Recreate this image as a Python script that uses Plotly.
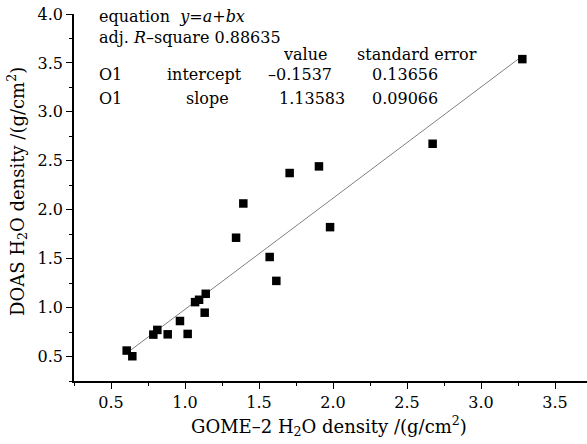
import plotly.graph_objects as go

gome = [0.606, 0.644, 0.786, 0.813, 0.883, 0.966, 1.018, 1.068, 1.095, 1.140,
        1.133, 1.345, 1.394, 1.572, 1.617, 1.707, 1.905, 1.980, 2.673, 3.279]
doas = [0.561, 0.503, 0.724, 0.772, 0.727, 0.863, 0.731, 1.056, 1.080, 1.141,
        0.948, 1.714, 2.064, 1.517, 1.273, 2.375, 2.443, 1.822, 2.674, 3.539]
intercept = -0.1537
slope = 1.13583

x_tick_vals = [0.5, 1.0, 1.5, 2.0, 2.5, 3.0, 3.5]
y_tick_vals = [0.5, 1.0, 1.5, 2.0, 2.5, 3.0, 3.5, 4.0]

FONT = "DejaVu Serif"
FS = 16
TFS = 18

fit_x = [min(gome), max(gome)]
fit_y = [intercept + slope * v for v in fit_x]

fig = go.Figure()
fig.add_trace(go.Scatter(x=fit_x, y=fit_y, mode="lines",
                         line=dict(color="#808080", width=1), showlegend=False))
fig.add_trace(go.Scatter(x=gome, y=doas, mode="markers",
                         marker=dict(symbol="square", size=8.5, color="black",
                                     line=dict(width=0)),
                         showlegend=False))

axis_common = dict(
    showline=True, linecolor="black", linewidth=1.5, mirror=False,
    showgrid=False, zeroline=False, ticks="outside", ticklen=6, tickwidth=1,
    tickcolor="black", tickfont=dict(family=FONT, size=FS, color="black"),
    minor=dict(ticks="outside", ticklen=3, tickwidth=1, tickcolor="black", dtick=0.25),
)

fig.update_xaxes(range=[0.25, 3.716], tickvals=x_tick_vals,
                 ticktext=[f"{v:.1f}" for v in x_tick_vals], **axis_common)
fig.update_yaxes(range=[0.25, 4.0], tickvals=y_tick_vals,
                 ticktext=[f"{v:.1f}" for v in y_tick_vals], **axis_common)

ann = []
def t(text, x, y, xanchor="left"):
    ann.append(dict(text=text, x=x, y=y, xref="x", yref="y", showarrow=False,
                    xanchor=xanchor, yanchor="middle",
                    font=dict(family=FONT, size=FS, color="black")))

t("equation  <i>y</i>=<i>a</i>+<i>bx</i>", 0.405, 3.973)
t("adj. <i>R</i>–square 0.88635", 0.405, 3.76)
t("value", 1.811, 3.587, "center")
t("standard error", 2.568, 3.587, "center")
t("O1", 0.405, 3.383)
t("intercept", 1.135, 3.383, "center")
t("–0.1537", 1.777, 3.383, "center")
t("0.13656", 2.486, 3.383, "center")
t("O1", 0.405, 3.139)
t("slope", 1.155, 3.139, "center")
t("1.13583", 1.858, 3.139, "center")
t("0.09066", 2.486, 3.139, "center")

ann.append(dict(text="DOAS H<sub>2</sub>O density /(g/cm<sup>2</sup>)",
                x=17, y=192, xref="paper", yref="paper", showarrow=False,
                textangle=-90, font=dict(family=FONT, size=TFS, color="black")))
ann.append(dict(text="GOME–2 H<sub>2</sub>O density /(g/cm<sup>2</sup>)",
                x=329, y=426, xref="paper", yref="paper", showarrow=False,
                font=dict(family=FONT, size=TFS, color="black")))

# convert pixel positions of axis titles to paper coords
L, R, T, B = 74, 0, 14, 63
W, H = 587, 444
pw, ph = W - L - R, H - T - B
for a in ann[-2:]:
    a["x"] = (a["x"] - L) / pw
    a["y"] = (H - B - a["y"]) / ph
    a["xanchor"] = "center"
    a["yanchor"] = "middle"

fig.update_layout(
    width=W, height=H, margin=dict(l=L, r=R, t=T, b=B),
    paper_bgcolor="white", plot_bgcolor="white",
    annotations=ann,
)
fig.write_html("out.html")
